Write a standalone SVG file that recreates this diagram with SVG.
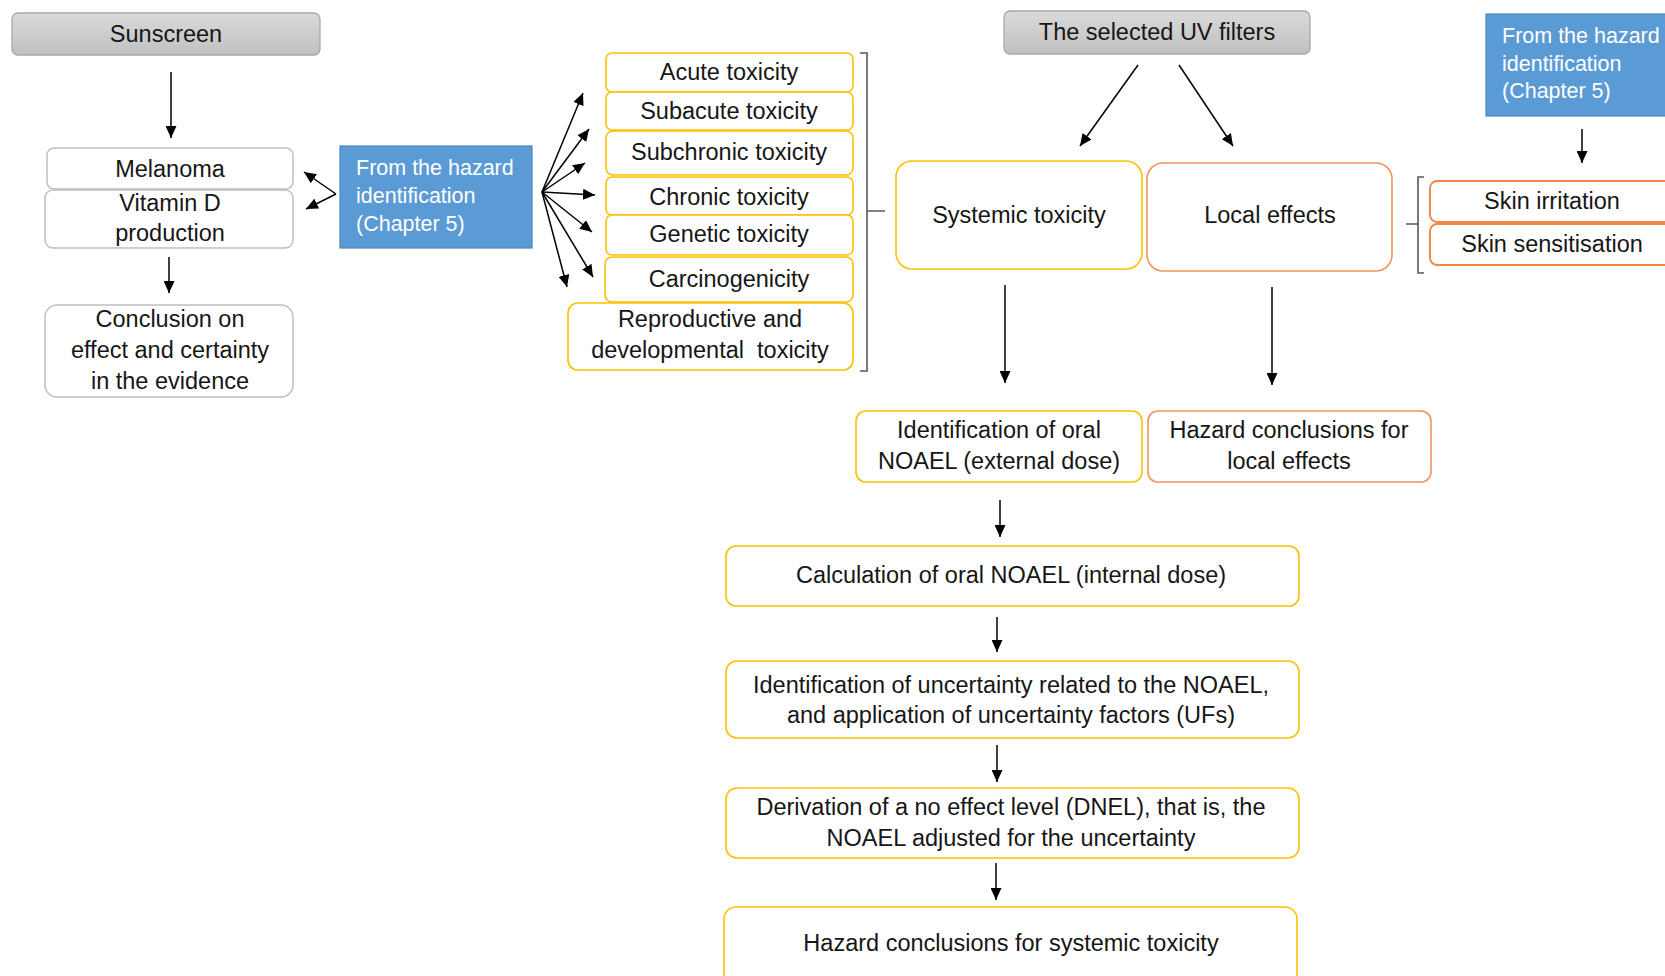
<svg xmlns="http://www.w3.org/2000/svg" width="1665" height="976" viewBox="0 0 1665 976">
  <defs>
    <linearGradient id="grayFill" x1="0" y1="0" x2="0" y2="1">
      <stop offset="0" stop-color="#dadada"/>
      <stop offset="1" stop-color="#c0c0c0"/>
    </linearGradient>
    <marker id="arrow" markerUnits="userSpaceOnUse" markerWidth="13" markerHeight="11" refX="12" refY="5.5" orient="auto">
      <path d="M0,0 L12,5.5 L0,11 z" fill="#000"/>
    </marker>
  </defs>
  <style>
    text { font-family: "Liberation Sans", Arial, sans-serif; font-size: 23.5px; fill: #161616; }
    .c { text-anchor: middle; }
    .w { fill: #ffffff; font-size: 21.5px; }
    .gray { fill: url(#grayFill); stroke: #a9a9a9; stroke-width: 1.3; }
    .plain { fill: #ffffff; stroke: #bfbfbf; stroke-width: 1.5; }
    .yel { fill: #ffffff; stroke: #ffc000; stroke-width: 1.6; }
    .org { fill: #ffffff; stroke: #f0955a; stroke-width: 1.6; }
    .org2 { fill: #ffffff; stroke: #ef8745; stroke-width: 1.9; }
    .blue { fill: #5b9bd5; stroke: #4a86c0; stroke-width: 1.2; }
    .conn path { fill: none; stroke: #000; stroke-width: 1.5; marker-end: url(#arrow); }
    .brace { fill: none; stroke: #595959; stroke-width: 1.6; }
  </style>

  <rect width="1665" height="976" fill="#ffffff"/>

  <!-- left column -->
  <g id="sunscreen">
    <rect class="gray" x="12" y="13" width="308" height="42" rx="6"/>
    <text class="c" x="166" y="42">Sunscreen</text>
  </g>
  <g id="melanoma">
    <rect class="plain" x="47" y="148" width="246" height="41" rx="7"/>
    <text class="c" x="170" y="177">Melanoma</text>
  </g>
  <g id="vitamin-d">
    <rect class="plain" x="45" y="190" width="248" height="58" rx="8"/>
    <text class="c" x="170" y="211">Vitamin D</text>
    <text class="c" x="170" y="241">production</text>
  </g>
  <g id="conclusion">
    <rect class="plain" x="45" y="305" width="248" height="92" rx="12"/>
    <text class="c" x="170" y="327">Conclusion on</text>
    <text class="c" x="170" y="358">effect and certainty</text>
    <text class="c" x="170" y="389">in the evidence</text>
  </g>
  <g id="hazard-id-left">
    <rect class="blue" x="340" y="146" width="192" height="102"/>
    <text class="w" x="356" y="175">From the hazard</text>
    <text class="w" x="356" y="203">identification</text>
    <text class="w" x="356" y="231">(Chapter 5)</text>
  </g>

  <!-- toxicity endpoints -->
  <g id="acute">
    <rect class="yel" x="606" y="53" width="247" height="39" rx="6"/>
    <text class="c" x="729" y="80">Acute toxicity</text>
  </g>
  <g id="subacute">
    <rect class="yel" x="606" y="92" width="247" height="38" rx="6"/>
    <text class="c" x="729" y="119">Subacute toxicity</text>
  </g>
  <g id="subchronic">
    <rect class="yel" x="606" y="131" width="247" height="44" rx="7"/>
    <text class="c" x="729" y="160">Subchronic toxicity</text>
  </g>
  <g id="chronic">
    <rect class="yel" x="606" y="177" width="247" height="38" rx="6"/>
    <text class="c" x="729" y="205">Chronic toxicity</text>
  </g>
  <g id="genetic">
    <rect class="yel" x="606" y="215" width="247" height="40" rx="6"/>
    <text class="c" x="729" y="242">Genetic toxicity</text>
  </g>
  <g id="carcinogenicity">
    <rect class="yel" x="605" y="257" width="248" height="45" rx="7"/>
    <text class="c" x="729" y="287">Carcinogenicity</text>
  </g>
  <g id="reproductive">
    <rect class="yel" x="568" y="303" width="285" height="67" rx="10"/>
    <text class="c" x="710" y="327">Reproductive and</text>
    <text class="c" x="710" y="358" style="white-space:pre">developmental  toxicity</text>
  </g>
  <path id="brace-endpoints" class="brace" d="M860,53 H867 V371 H860 M867,211 H885"/>

  <!-- centre column -->
  <g id="uv-filters">
    <rect class="gray" x="1004" y="11" width="306" height="43" rx="6"/>
    <text class="c" x="1157" y="40">The selected UV filters</text>
  </g>
  <g id="systemic">
    <rect class="yel" x="896" y="161" width="246" height="108" rx="16"/>
    <text class="c" x="1019" y="223">Systemic toxicity</text>
  </g>
  <g id="local">
    <rect class="org" x="1147" y="163" width="245" height="108" rx="16"/>
    <text class="c" x="1270" y="223">Local effects</text>
  </g>

  <!-- right column -->
  <g id="hazard-id-right">
    <rect class="blue" x="1486" y="14" width="200" height="102"/>
    <text class="w" x="1502" y="43">From the hazard</text>
    <text class="w" x="1502" y="71">identification</text>
    <text class="w" x="1502" y="98">(Chapter 5)</text>
  </g>
  <g id="skin-irritation">
    <rect class="org2" x="1430" y="181" width="260" height="41" rx="7"/>
    <text class="c" x="1552" y="209">Skin irritation</text>
  </g>
  <g id="skin-sensitisation">
    <rect class="org2" x="1430" y="224" width="260" height="41" rx="7"/>
    <text class="c" x="1552" y="252">Skin sensitisation</text>
  </g>
  <path id="brace-skin" class="brace" d="M1424,177 H1418 V273 H1424 M1418,224 H1406"/>

  <!-- outcomes -->
  <g id="oral-noael">
    <rect class="yel" x="856" y="411" width="286" height="71" rx="10"/>
    <text class="c" x="999" y="438">Identification of oral</text>
    <text class="c" x="999" y="469">NOAEL (external dose)</text>
  </g>
  <g id="hazard-local">
    <rect class="org" x="1148" y="411" width="283" height="71" rx="10"/>
    <text class="c" x="1289" y="438">Hazard conclusions for</text>
    <text class="c" x="1289" y="469">local effects</text>
  </g>
  <g id="internal-noael">
    <rect class="yel" x="726" y="546" width="573" height="60" rx="10"/>
    <text class="c" x="1011" y="583">Calculation of oral NOAEL (internal dose)</text>
  </g>
  <g id="uncertainty">
    <rect class="yel" x="726" y="661" width="573" height="77" rx="11"/>
    <text class="c" x="1011" y="693">Identification of uncertainty related to the NOAEL,</text>
    <text class="c" x="1011" y="723">and application of uncertainty factors (UFs)</text>
  </g>
  <g id="dnel">
    <rect class="yel" x="726" y="788" width="573" height="70" rx="11"/>
    <text class="c" x="1011" y="815">Derivation of a no effect level (DNEL), that is, the</text>
    <text class="c" x="1011" y="846">NOAEL adjusted for the uncertainty</text>
  </g>
  <g id="hazard-systemic">
    <rect class="yel" x="724" y="907" width="573" height="85" rx="12"/>
    <text class="c" x="1011" y="951">Hazard conclusions for systemic toxicity</text>
  </g>

  <!-- connectors -->
  <g id="connectors" class="conn">
    <path d="M171,72 V138"/>
    <path d="M169,257 V293"/>
    <path d="M336,194 L304,172"/>
    <path d="M336,194 L306,209"/>
    <path d="M542,192 L583,93"/>
    <path d="M542,192 L589,129"/>
    <path d="M542,192 L585,163"/>
    <path d="M542,192 L595,195"/>
    <path d="M542,192 L592,232"/>
    <path d="M542,192 L593,277"/>
    <path d="M542,192 L567,287"/>
    <path d="M1138,65 L1080,146"/>
    <path d="M1179,65 L1233,146"/>
    <path d="M1005,285 V383"/>
    <path d="M1272,287 V385"/>
    <path d="M1582,129 V163"/>
    <path d="M1000,500 V537"/>
    <path d="M997,617 V652"/>
    <path d="M997,745 V782"/>
    <path d="M996,863 V900"/>
  </g>
</svg>
